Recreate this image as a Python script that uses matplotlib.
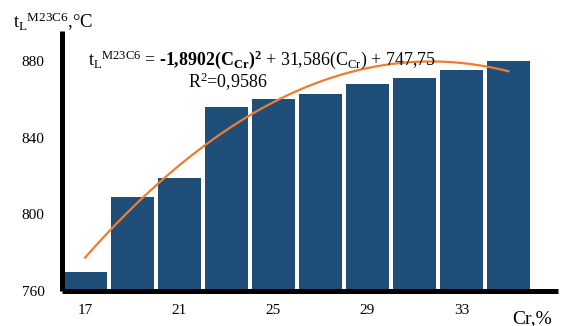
import numpy as np
import matplotlib
matplotlib.use('Agg')
import matplotlib.pyplot as plt

plt.rcParams['font.family'] = ['Liberation Serif', 'DejaVu Serif']
plt.rcParams['mathtext.fontset'] = 'custom'
plt.rcParams['mathtext.rm'] = 'Liberation Serif'
plt.rcParams['mathtext.it'] = 'Liberation Serif:italic'
plt.rcParams['mathtext.bf'] = 'Liberation Serif:bold'

# Liquidus temperature of M23C6 vs chromium content
cr_content = [17, 19, 21, 23, 25, 27, 29, 31, 33, 35]
t_liquidus = [770, 809, 819, 856, 860, 863, 868, 871, 875, 880]
x_ticks = [17, 21, 25, 29, 33]
y_ticks = [760, 800, 840, 880]

# polynomial trend (x = point number 1..10)
coef_a, coef_b, coef_c = -1.8902, 31.586, 747.75

bar_color = '#1f4e79'
trend_color = '#ed7d31'

fig = plt.figure(figsize=(5.68, 3.26), dpi=100)
ax = fig.add_axes([0.110, 0.107, 0.872, 0.798])

ax.bar(cr_content, [t - 760 for t in t_liquidus], bottom=760, width=1.83,
       color=bar_color, zorder=2)

n = np.linspace(1, len(cr_content), 200)
trend = coef_a * n ** 2 + coef_b * n + coef_c
ax.plot(cr_content[0] + 2 * (n - 1), trend, color=trend_color, lw=1.6, zorder=3)

ax.set_xlim(16.04, 37.1)
ax.set_ylim(760, 895.6)
ax.set_xticks(x_ticks)
ax.set_yticks(y_ticks)
ax.tick_params(length=0, labelsize=11)
ax.tick_params(axis='y', pad=13)
ax.tick_params(axis='x', pad=9)

for side in ['top', 'right']:
    ax.spines[side].set_visible(False)
for side in ['left', 'bottom']:
    ax.spines[side].set_linewidth(3.6)
    ax.spines[side].set_color('black')
    ax.spines[side].set_capstyle('butt')

fig.text(13 / 568, 1 - 28 / 326, r'$\mathrm{t_L{}^{M23C6}}$,°C', fontsize=13.5,
         ha='left', va='baseline')
fig.text(512 / 568, 1 - 323 / 326, 'Cr,%', fontsize=14, ha='left', va='baseline')

eq = (r'$\mathrm{t_L{}^{M23C6}}$ = '
      '$\\mathbf{\u20101{,}8902(C_{Cr})^2}$'
      r' + 31,586(C$_{\mathrm{Cr}}$) + 747,75')
fig.text(88 / 568, 1 - 65 / 326, eq, fontsize=12.9, ha='left', va='baseline', zorder=4)
fig.text(188 / 568, 1 - 88 / 326, r'R$^2$=0,9586', fontsize=12.9,
         ha='left', va='baseline', zorder=4)

fig.savefig('out.png', dpi=100)
